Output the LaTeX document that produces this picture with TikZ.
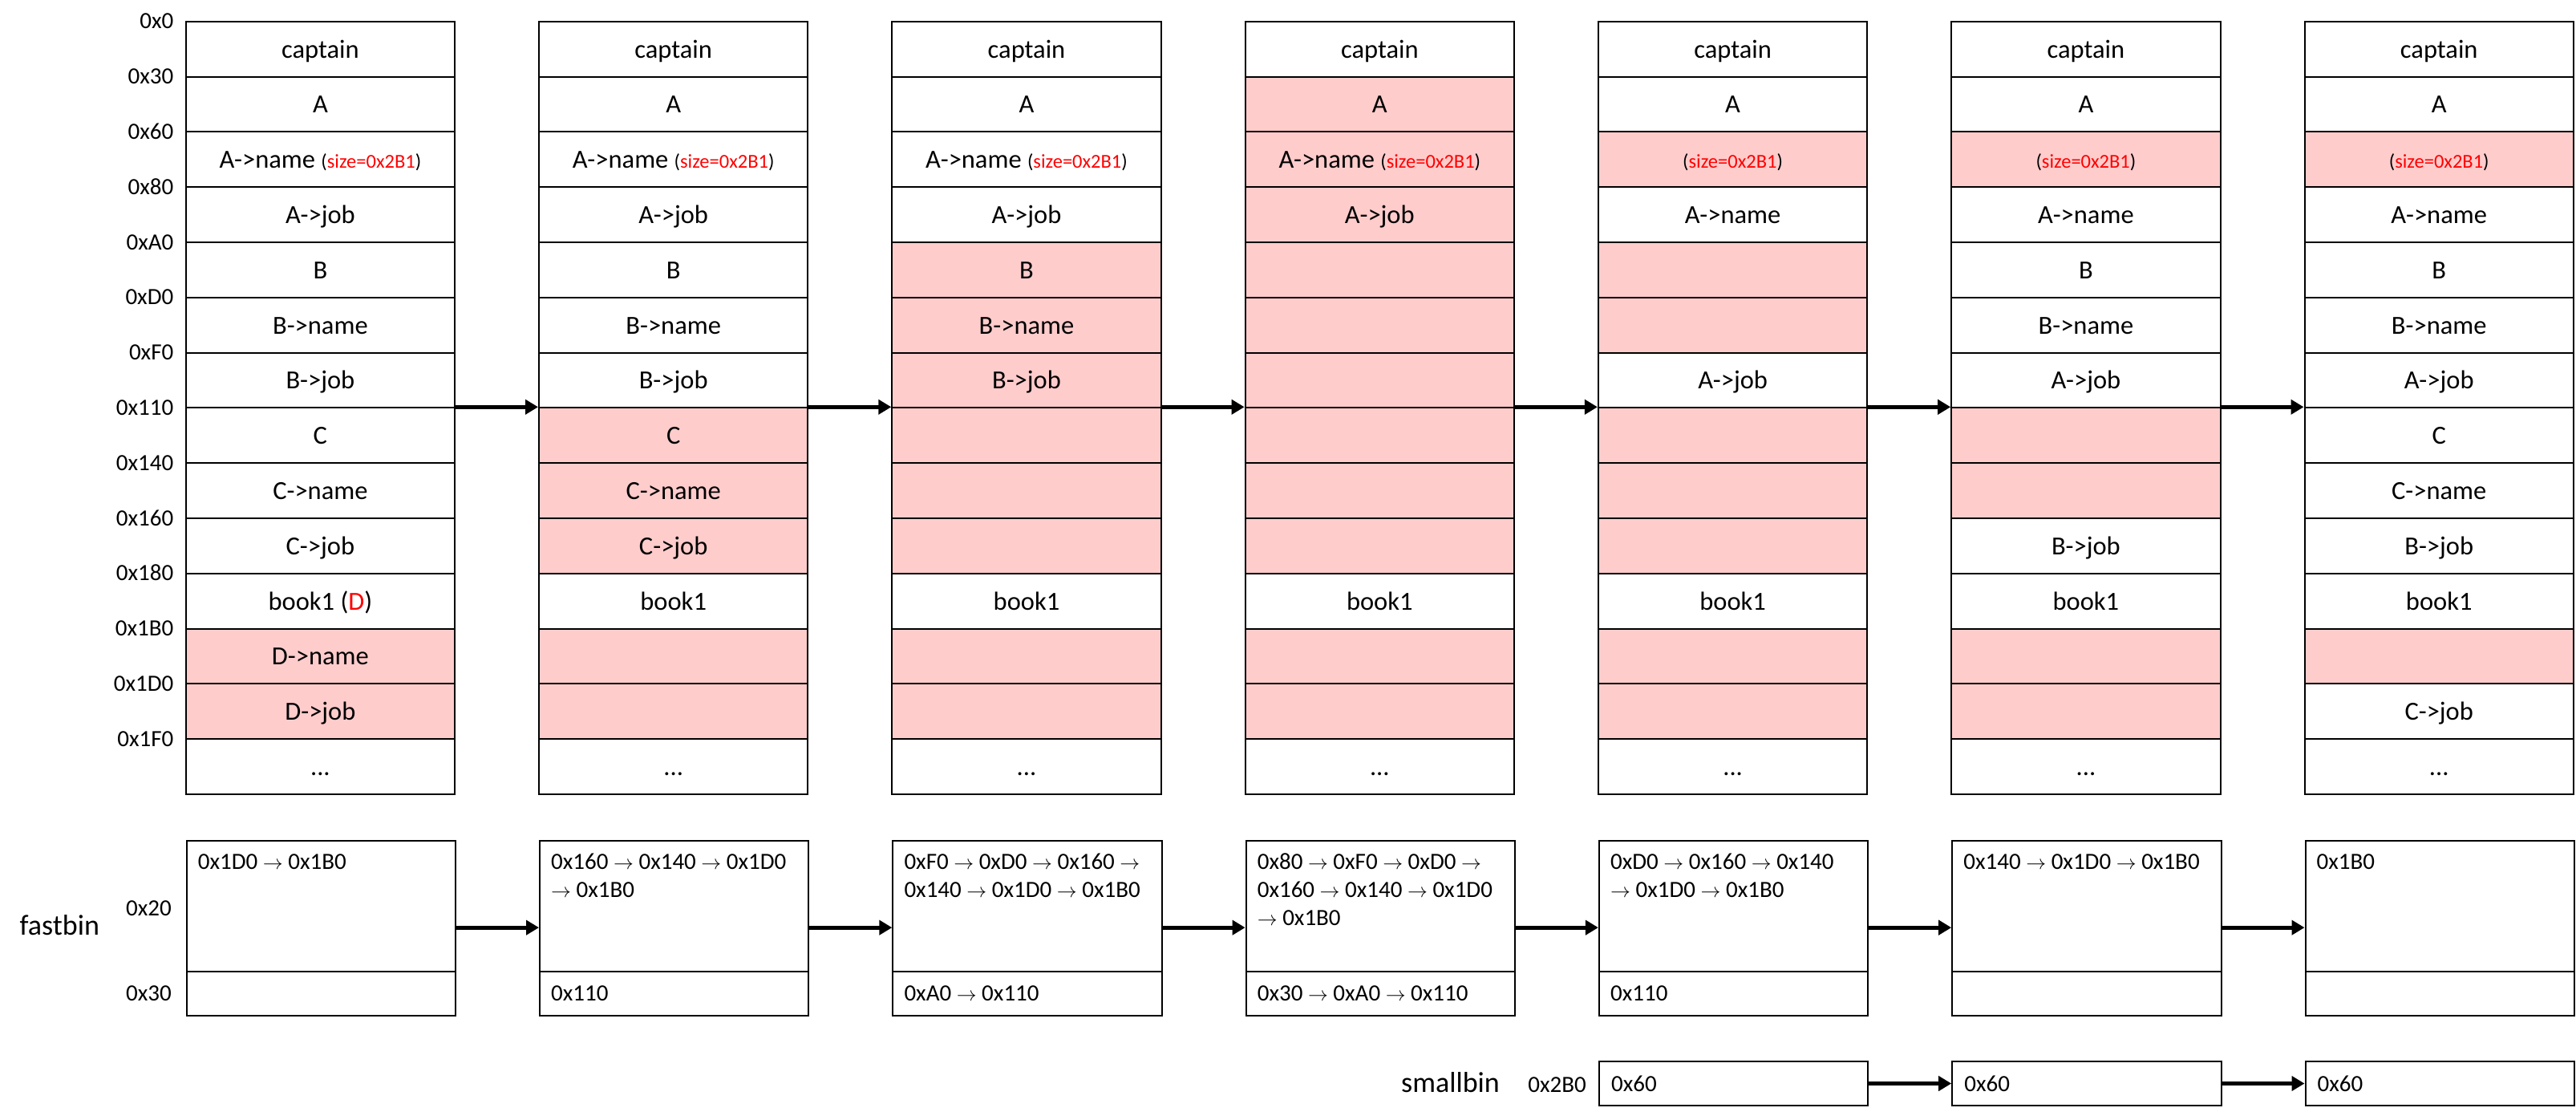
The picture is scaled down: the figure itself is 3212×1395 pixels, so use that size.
\documentclass[tikz,border=0pt]{standalone}
\usepackage{fontspec}
\setmainfont{Carlito}
\usetikzlibrary{arrows.meta}
\definecolor{freed}{HTML}{FFCCCC}
\definecolor{redtxt}{HTML}{FF0000}
\newcommand\szlbl{{\fontsize{24.5pt}{24.5pt}\selectfont(\textcolor{redtxt}{size=0x2B1})}}
\newcommand\ra{{\fontsize{27pt}{27pt}\selectfont$\rightarrow$}}
\newcommand\dd{...}
\tikzset{
  cell/.style={draw, line width=2pt, minimum width=335.4pt, minimum height=68.8pt, inner sep=0pt,
    text height=22pt, text depth=0pt, font=\fontsize{32.5pt}{39pt}\selectfont},
  w/.style={fill=white},
  p/.style={fill=freed},
  addr/.style={anchor=east, inner sep=0pt, text height=18.3pt, text depth=0pt, font=\fontsize{29pt}{35pt}\selectfont},
  bin/.style={draw, line width=2pt, minimum width=335.4pt, inner sep=0pt, anchor=north west},
  bintxt/.style={anchor=base west, inner sep=0pt, font=\fontsize{29pt}{35pt}\selectfont},
  biglbl/.style={anchor=base west, inner sep=0pt, font=\fontsize{36pt}{42pt}\selectfont},
  flow/.style={line width=5pt, -{Triangle[length=16pt,width=18pt]}},
}
\newcommand\heapcol[2]{%
  \foreach \txt/\ff [count=\r from 0] in {#2} {
    \node[cell,\ff] (h#1-\r) at ({399.4+440.3*(#1-1)}, {61.1+68.8*\r}) {\txt};
  }}
\begin{document}
\begin{tikzpicture}[x=1pt, y=-1pt]
\useasboundingbox (0,0) rectangle (3212,1395);

% address labels
\foreach \a [count=\r from 0] in {0x0,0x30,0x60,0x80,0xA0,0xD0,0xF0,0x110,0x140,0x160,0x180,0x1B0,0x1D0,0x1F0} {
  \node[addr] (ad\r) at (216.5, {26.7+68.8*\r}) {\a};
}

% heap columns
\heapcol{1}{captain/w, A/w, {A->name \szlbl}/w, {A->job}/w, B/w, {B->name}/w, {B->job}/w, C/w, {C->name}/w, {C->job}/w, {book1 (\textcolor{redtxt}{D})}/w, {D->name}/p, {D->job}/p, \dd/w}
\heapcol{2}{captain/w, A/w, {A->name \szlbl}/w, {A->job}/w, B/w, {B->name}/w, {B->job}/w, C/p, {C->name}/p, {C->job}/p, book1/w, {}/p, {}/p, \dd/w}
\heapcol{3}{captain/w, A/w, {A->name \szlbl}/w, {A->job}/w, B/p, {B->name}/p, {B->job}/p, {}/p, {}/p, {}/p, book1/w, {}/p, {}/p, \dd/w}
\heapcol{4}{captain/w, A/p, {A->name \szlbl}/p, {A->job}/p, {}/p, {}/p, {}/p, {}/p, {}/p, {}/p, book1/w, {}/p, {}/p, \dd/w}
\heapcol{5}{captain/w, A/w, {\szlbl}/p, {A->name}/w, {}/p, {}/p, {A->job}/w, {}/p, {}/p, {}/p, book1/w, {}/p, {}/p, \dd/w}
\heapcol{6}{captain/w, A/w, {\szlbl}/p, {A->name}/w, B/w, {B->name}/w, {A->job}/w, {}/p, {}/p, {B->job}/w, book1/w, {}/p, {}/p, \dd/w}
\heapcol{7}{captain/w, A/w, {\szlbl}/p, {A->name}/w, B/w, {B->name}/w, {A->job}/w, C/w, {C->name}/w, {B->job}/w, book1/w, {}/p, {C->job}/w, \dd/w}

\foreach \i [evaluate=\i as \j using int(\i+1)] in {1,...,6} {
  \draw[flow] (h\i-7.north east) -- (h\j-7.north west);
}

% fastbin
\node[biglbl] (fastbinlbl) at (24.5,1165) {fastbin};
\node[addr] (fb20) at (214,1132.7) {0x20};
\node[addr] (fb30) at (214,1238) {0x30};
\foreach \i in {1,...,7} {
  \node[bin, minimum height=163pt] (fa\i) at ({231.7+440.3*(\i-1)}, 1047.3) {};
  \node[bin, minimum height=54.7pt] (fb\i) at ({231.7+440.3*(\i-1)}, 1210.3) {};
}
\foreach \i [evaluate=\i as \j using int(\i+1)] in {1,...,6} {
  \draw[flow] ([yshift=-108.85pt]fa\i.north east) -- ([yshift=-108.85pt]fa\j.north west);
}
\node[bintxt] (t1a) at (246.7,1083) {0x1D0 \ra{} 0x1B0};

\node[bintxt] (t2a) at (687,1083) {0x160 \ra{} 0x140 \ra{} 0x1D0};
\node[bintxt] (t2b) at (687,1118) {\ra{} 0x1B0};
\node[bintxt] (t2c) at (687,1247) {0x110};

\node[bintxt] (t3a) at (1127.3,1083) {0xF0 \ra{} 0xD0 \ra{} 0x160 \ra};
\node[bintxt] (t3b) at (1127.3,1118) {0x140 \ra{} 0x1D0 \ra{} 0x1B0};
\node[bintxt] (t3c) at (1127.3,1247) {0xA0 \ra{} 0x110};

\node[bintxt] (t4a) at (1567.6,1083) {0x80 \ra{} 0xF0 \ra{} 0xD0 \ra};
\node[bintxt] (t4b) at (1567.6,1118) {0x160 \ra{} 0x140 \ra{} 0x1D0};
\node[bintxt] (t4d) at (1567.6,1153) {\ra{} 0x1B0};
\node[bintxt] (t4c) at (1567.6,1247) {0x30 \ra{} 0xA0 \ra{} 0x110};

\node[bintxt] (t5a) at (2007.9,1083) {0xD0 \ra{} 0x160 \ra{} 0x140};
\node[bintxt] (t5b) at (2007.9,1118) {\ra{} 0x1D0 \ra{} 0x1B0};
\node[bintxt] (t5c) at (2007.9,1247) {0x110};

\node[bintxt] (t6a) at (2448.2,1083) {0x140 \ra{} 0x1D0 \ra{} 0x1B0};

\node[bintxt] (t7a) at (2888.5,1083) {0x1B0};

% smallbin
\node[biglbl] (smallbinlbl) at (1747,1361) {smallbin};
\node[addr] (sb2b0) at (1978,1352) {0x2B0};
\foreach \i in {5,6,7} {
  \node[bin, minimum height=54.4pt] (sb\i) at ({231.7+440.3*(\i-1)}, 1322.3) {};
  \node[bintxt] (sbt\i) at ({247.7+440.3*(\i-1)}, 1360) {0x60};
}
\draw[flow] (sb5.east) -- (sb6.west);
\draw[flow] (sb6.east) -- (sb7.west);
\end{tikzpicture}
\end{document}
